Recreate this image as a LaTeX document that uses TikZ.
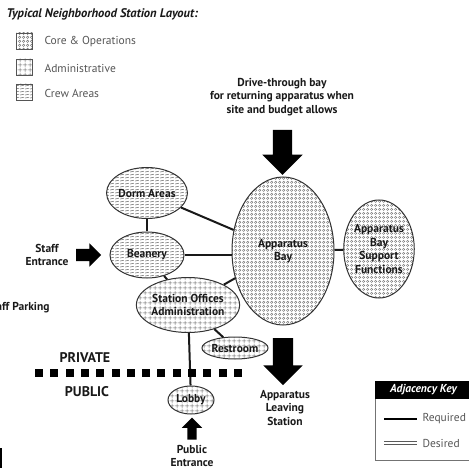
\documentclass[tikz,border=0pt]{standalone}
\usepackage{fontspec}
\setmainfont{PT Sans}
\usepackage{xcolor}
\usetikzlibrary{
    shapes.geometric,
    shapes.arrows,
    positioning,
    patterns.meta
}
\definecolor{legendgray}{RGB}{85, 85, 85}
\definecolor{hatchgray}{RGB}{115, 115, 115}

% fill patterns of the three space types
\tikzdeclarepattern{
    name=coremesh, type=uncolored,
    bounding box={(0pt,0pt) and (3.6pt,3.6pt)},
    tile size={(3.6pt,3.6pt)},
    code={\draw[line width=0.5pt] (1.8pt,1.8pt) circle[radius=1.3pt];}
}
\tikzdeclarepattern{
    name=admingrid, type=uncolored,
    bounding box={(0pt,0pt) and (4.6pt,4.6pt)},
    tile size={(4.6pt,4.6pt)},
    code={\draw[line width=0.6pt] (0pt,2.3pt) -- (4.6pt,2.3pt) (2.3pt,0pt) -- (2.3pt,4.6pt);}
}
\tikzdeclarepattern{
    name=crewlines, type=uncolored,
    bounding box={(0pt,0pt) and (5pt,3.3pt)},
    tile size={(5pt,3.3pt)},
    code={\draw[line width=0.65pt] (0.2pt,1.2pt) -- (4.6pt,2.1pt);}
}

\begin{document}
\begin{tikzpicture}[
        x=1pt, y=-1pt,
        room/.style={ellipse, draw=black!80, line width=1pt, inner sep=0pt, align=center, text=black!90, font=\bfseries\fontsize{11.5}{13.5}\selectfont},
        core/.style={room, pattern=coremesh, pattern color=hatchgray},
        admin/.style={room, pattern=admingrid, pattern color=hatchgray},
        crew/.style={room, pattern=crewlines, pattern color=hatchgray},
        swatch/.style={draw=legendgray, line width=0.7pt, minimum size=16pt, inner sep=0pt},
        legend/.style={anchor=west, text=legendgray, font=\fontsize{11.5}{12}\selectfont},
        label/.style={align=center, text=black!90, font=\bfseries\fontsize{11.5}{13.5}\selectfont},
        zone/.style={text=black!90, font=\bfseries\fontsize{14}{15}\selectfont},
        divsq/.style={fill=black, minimum size=8pt, inner sep=0pt},
        blockarrow/.style={single arrow, fill=black, inner xsep=0pt, minimum width=1pt, single arrow head indent=0pt, single arrow tip angle=90},
        req/.style={line width=2pt, black!90}
    ]
        \useasboundingbox (0,0) rectangle (469,468);

        % Title and legend
        \node[anchor=west, text=black!90, font=\bfseries\itshape\fontsize{12.5}{14}\selectfont] (title) at (3,14) {Typical Neighborhood Station Layout:};
        \node[swatch, pattern=coremesh, pattern color=hatchgray] (swcore) at (24.5,41) {};
        \node[swatch, pattern=admingrid, pattern color=hatchgray] (swadmin) at (24.5,67) {};
        \node[swatch, pattern=crewlines, pattern color=hatchgray] (swcrew) at (24.5,92) {};
        \node[legend] (lgcore) at (41,42) {Core \& Operations};
        \node[legend] (lgadmin) at (41,68) {Administrative};
        \node[legend] (lgcrew) at (41,93) {Crew Areas};

        % Drive-through bay
        \node[label] (drive) at (282,97) {Drive-through bay\\for returning apparatus when\\site and budget allows};
        \node[blockarrow, rotate=-90, minimum height=45pt, inner ysep=9.5pt, single arrow head extend=10.5pt] (inarrow) at (282.5,147.5) {};

        % Rooms
        \node[core, minimum width=102pt, minimum height=148pt] (bay) at (283,251) {Apparatus\\Bay};
        \node[core, minimum width=68pt, minimum height=98pt] (support) at (379,249) {Apparatus\\Bay\\Support\\Functions};
        \node[crew, minimum width=74pt, minimum height=51pt] (dorm) at (147,193) {Dorm Areas};
        \node[crew, minimum width=74pt, minimum height=46pt] (beanery) at (147,255) {Beanery};
        \node[admin, minimum width=91pt, minimum height=55pt] (offices) at (188,305) {Station Offices\\Administration};
        \node[admin, minimum width=55pt, minimum height=22pt] (restroom) at (235,348) {Restroom};
        \node[admin, minimum width=46pt, minimum height=28pt] (lobby) at (191,400) {Lobby};

        % Required adjacencies
        \draw[req] (dorm) -- (beanery);
        \draw[req] (dorm) -- (bay);
        \draw[req] (beanery.east) -- (beanery.east -| bay.west);
        \draw[req] (beanery) -- (offices);
        \draw[req] (offices) -- (bay);
        \draw[req] (offices) -- (restroom);
        \draw[req] (offices) -- (lobby);
        \draw[req] (bay) -- (support);

        % Staff side
        \node[label] (staff) at (47,255) {Staff\\Entrance};
        \node[blockarrow, minimum height=25pt, inner ysep=6pt, single arrow head extend=5.5pt] (staffarrow) at (85.5,255) {};
        \node[label, anchor=east] (parking) at (53,308) {Staff Parking};

        % Private / public line
        \node[zone] (private) at (85,358) {PRIVATE};
        \node[zone] (public) at (87,392) {PUBLIC};
        \foreach \i in {0,...,13}
            \node[divsq] (sq\i) at (39+\i*15.3,373) {};

        % Public entrance
        \node[blockarrow, rotate=90, minimum height=22pt, inner ysep=4.5pt, single arrow head extend=5.5pt] (pubarrow) at (192,431) {};
        \node[label] (pubentry) at (192,456) {Public\\Entrance};

        % Apparatus leaving
        \node[blockarrow, rotate=-90, minimum height=47pt, inner ysep=10pt, single arrow head extend=9.5pt] (outarrow) at (283,356.5) {};
        \node[label] (leaving) at (285,408) {Apparatus\\Leaving\\Station};

        % Adjacency key
        \node[draw=black!55, line width=0.8pt, minimum width=97pt, minimum height=79pt, inner sep=0pt] (keybox) at (423.5,420.5) {};
        \node[fill=black, minimum width=97pt, minimum height=18pt, inner sep=0pt, text=white, font=\bfseries\itshape\fontsize{11.5}{12}\selectfont] (keyhead) at (423.5,390) {Adjacency Key};
        \coordinate (reqa) at (384,419);
        \coordinate (reqb) at (417,419);
        \coordinate (desa) at (384,443);
        \coordinate (desb) at (417,443);
        \draw[line width=2.8pt] (reqa) -- (reqb);
        \draw[draw=black!65, double=white, line width=1.2pt, double distance=1.4pt] (desa) -- (desb);
        \node[legend] (keyreq) at (419,419) {Required};
        \node[legend] (keydes) at (419,443) {Desired};

        % Stray mark at the lower left edge
        \node[fill=black, minimum width=2pt, minimum height=20pt, inner sep=0pt] (edgemark) at (1,458) {};
    \end{tikzpicture}
\end{document}
